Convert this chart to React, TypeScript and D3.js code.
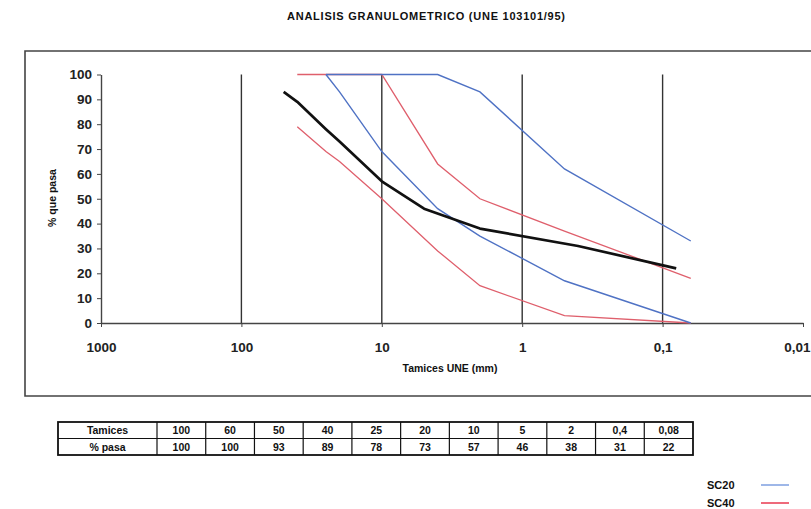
import { useEffect, useRef } from "react";
import * as d3 from "d3";

// muestra ensayada (tabla)
const sieves = [100, 60, 50, 40, 25, 20, 10, 5, 2, 0.4, 0.08];
const passing = [100, 100, 93, 89, 78, 73, 57, 46, 38, 31, 22];

// husos SC40
const sc40Sieves = [40, 25, 20, 10, 4, 2, 0.5, 0.063];
const sc40Upper = [100, 100, 100, 100, 64, 50, 37, 18];
const sc40Lower = [79, 69, 65, 50, 29, 15, 3, 0];

// husos SC20
const sc20Sieves = [25, 20, 10, 4, 2, 0.5, 0.063];
const sc20Upper = [100, 100, 100, 100, 93, 62, 33];
const sc20Lower = [100, 93, 69, 46, 35, 17, 0];

const xTicks = [1000, 100, 10, 1, 0.1, 0.01];
const yTicks = [0, 10, 20, 30, 40, 50, 60, 70, 80, 90, 100];

const FONT = "'Liberation Sans', Arial, sans-serif";
const BLUE = "#4f72c4";
const RED = "#df5f6c";

const comma = (v: number) => String(v).replace(".", ",");

const App = () => {
  const ref = useRef<SVGSVGElement>(null);

  useEffect(() => {
    const svg = d3.select(ref.current);
    svg.selectAll("*").remove();

    const width = 811;
    const height = 509;
    svg.attr("width", width).attr("height", height).attr("font-family", FONT);

    svg.append("rect").attr("width", width).attr("height", height).attr("fill", "white");

    // title
    svg.append("text")
      .attr("x", 426)
      .attr("y", 20)
      .attr("text-anchor", "middle")
      .attr("font-size", 11)
      .attr("font-weight", "bold")
      .attr("textLength", 278)
      .attr("fill", "#111")
      .text("ANALISIS GRANULOMETRICO (UNE 103101/95)");

    // chart frame
    svg.append("path")
      .attr("d", "M 830 51 L 25 51 L 25 396 L 830 396")
      .attr("fill", "none")
      .attr("stroke", "#444")
      .attr("stroke-width", 1.6);

    const x = d3.scaleLog().domain([1000, 0.01]).range([101, 803]);
    const y = d3.scaleLinear().domain([0, 100]).range([323, 74.5]);

    // vertical grid lines at decades
    svg.append("g")
      .selectAll("line")
      .data(xTicks.slice(1, 5))
      .join("line")
      .attr("x1", (d) => x(d))
      .attr("x2", (d) => x(d))
      .attr("y1", y(100))
      .attr("y2", y(0))
      .attr("stroke", "#333")
      .attr("stroke-width", 1.4);

    const yAxis = svg.append("g")
      .attr("transform", `translate(${x(1000)},0)`)
      .call(d3.axisLeft(y).tickValues(yTicks).tickSize(4).tickSizeOuter(0).tickPadding(5));
    yAxis.select(".domain").attr("stroke", "#444").attr("stroke-width", 1.4);
    yAxis.selectAll(".tick line").attr("stroke", "#444");
    yAxis.selectAll("text")
      .attr("font-family", FONT)
      .attr("font-size", 13.5)
      .attr("font-weight", "bold")
      .attr("fill", "#222");

    const xAxis = svg.append("g")
      .attr("transform", `translate(0,${y(0)})`)
      .call(d3.axisBottom(x).tickValues(xTicks).tickFormat((d) => comma(d as number)).tickSize(4).tickSizeOuter(0).tickPadding(15));
    xAxis.select(".domain").attr("stroke", "#444").attr("stroke-width", 1.4);
    xAxis.selectAll(".tick line").attr("stroke", "#444");
    xAxis.selectAll("text")
      .attr("font-family", FONT)
      .attr("font-size", 13.5)
      .attr("font-weight", "bold")
      .attr("fill", "#222");
    // last label sits against the page edge
    xAxis.selectAll<SVGTextElement, number>("text")
      .filter((d) => d === 0.01)
      .attr("text-anchor", "end")
      .attr("x", 7);

    // axis titles
    svg.append("text")
      .attr("transform", `translate(56,198) rotate(-90)`)
      .attr("text-anchor", "middle")
      .attr("font-size", 10.5)
      .attr("font-weight", "bold")
      .attr("fill", "#111")
      .text("% que pasa");

    svg.append("text")
      .attr("x", 450)
      .attr("y", 372)
      .attr("text-anchor", "middle")
      .attr("font-size", 10.5)
      .attr("font-weight", "bold")
      .attr("fill", "#111")
      .text("Tamices UNE (mm)");

    const line = d3.line<[number, number]>()
      .x((d) => x(d[0]))
      .y((d) => y(d[1]));

    const series = [
      { s: sc40Sieves, v: sc40Lower, color: RED, w: 1.3 },
      { s: sc40Sieves, v: sc40Upper, color: RED, w: 1.3 },
      { s: sc20Sieves, v: sc20Lower, color: BLUE, w: 1.4 },
      { s: sc20Sieves, v: sc20Upper, color: BLUE, w: 1.4 },
    ];

    svg.append("g")
      .selectAll("path")
      .data(series)
      .join("path")
      .attr("fill", "none")
      .attr("stroke", (d) => d.color)
      .attr("stroke-width", (d) => d.w)
      .attr("d", (d) => line(d.s.map((s, i) => [s, d.v[i]] as [number, number])));

    // muestra: solo se dibuja desde 50 mm
    const sample = sieves
      .map((s, i) => [s, passing[i]] as [number, number])
      .filter((d) => d[0] <= 50);

    svg.append("path")
      .datum(sample)
      .attr("fill", "none")
      .attr("stroke", "#111")
      .attr("stroke-width", 2.7)
      .attr("stroke-linejoin", "round")
      .attr("d", line);

    // table
    const tx0 = 58;
    const firstW = 99;
    const cellW = (693 - tx0 - firstW) / sieves.length;
    const rows = [
      { label: "Tamices", vals: sieves.map(comma), y0: 422 },
      { label: "% pasa", vals: passing.map(String), y0: 438.5 },
    ];
    const rowH = 16.5;
    const table = svg.append("g").attr("font-size", 10.5).attr("fill", "#111");

    rows.forEach((r) => {
      table.append("text")
        .attr("x", tx0 + firstW / 2)
        .attr("y", r.y0 + rowH / 2 + 4)
        .attr("text-anchor", "middle")
        .attr("font-weight", "bold")
        .text(r.label);
      table.selectAll(null)
        .data(r.vals)
        .join("text")
        .attr("x", (_, i) => tx0 + firstW + cellW * (i + 0.5))
        .attr("y", r.y0 + rowH / 2 + 4)
        .attr("text-anchor", "middle")
        .attr("font-weight", "bold")
        .text((d) => d);
    });

    table.append("rect")
      .attr("x", tx0)
      .attr("y", 422)
      .attr("width", 693 - tx0)
      .attr("height", rowH * 2)
      .attr("fill", "none")
      .attr("stroke", "#111")
      .attr("stroke-width", 1.8);
    table.append("line")
      .attr("x1", tx0).attr("x2", 693)
      .attr("y1", 422 + rowH).attr("y2", 422 + rowH)
      .attr("stroke", "#111").attr("stroke-width", 1.2);
    table.selectAll(null)
      .data(d3.range(sieves.length))
      .join("line")
      .attr("x1", (i) => tx0 + firstW + cellW * i)
      .attr("x2", (i) => tx0 + firstW + cellW * i)
      .attr("y1", 422)
      .attr("y2", 422 + rowH * 2)
      .attr("stroke", "#111")
      .attr("stroke-width", 1.2);

    // legend
    const legend = [
      { name: "SC20", color: "#7e9fe0", y0: 485 },
      { name: "SC40", color: "#e8384f", y0: 503 },
    ];
    const lg = svg.append("g");
    lg.selectAll("text")
      .data(legend)
      .join("text")
      .attr("x", 707)
      .attr("y", (d) => d.y0 + 4)
      .attr("font-size", 11)
      .attr("font-weight", "bold")
      .attr("fill", "#111")
      .text((d) => d.name);
    lg.selectAll("line")
      .data(legend)
      .join("line")
      .attr("x1", 761)
      .attr("x2", 789)
      .attr("y1", (d) => d.y0)
      .attr("y2", (d) => d.y0)
      .attr("stroke", (d) => d.color)
      .attr("stroke-width", 1.5);
  }, []);

  return (
    <svg ref={ref} style={{ position: "absolute", left: 0, top: 0, display: "block" }}></svg>
  );
};

export default App;
